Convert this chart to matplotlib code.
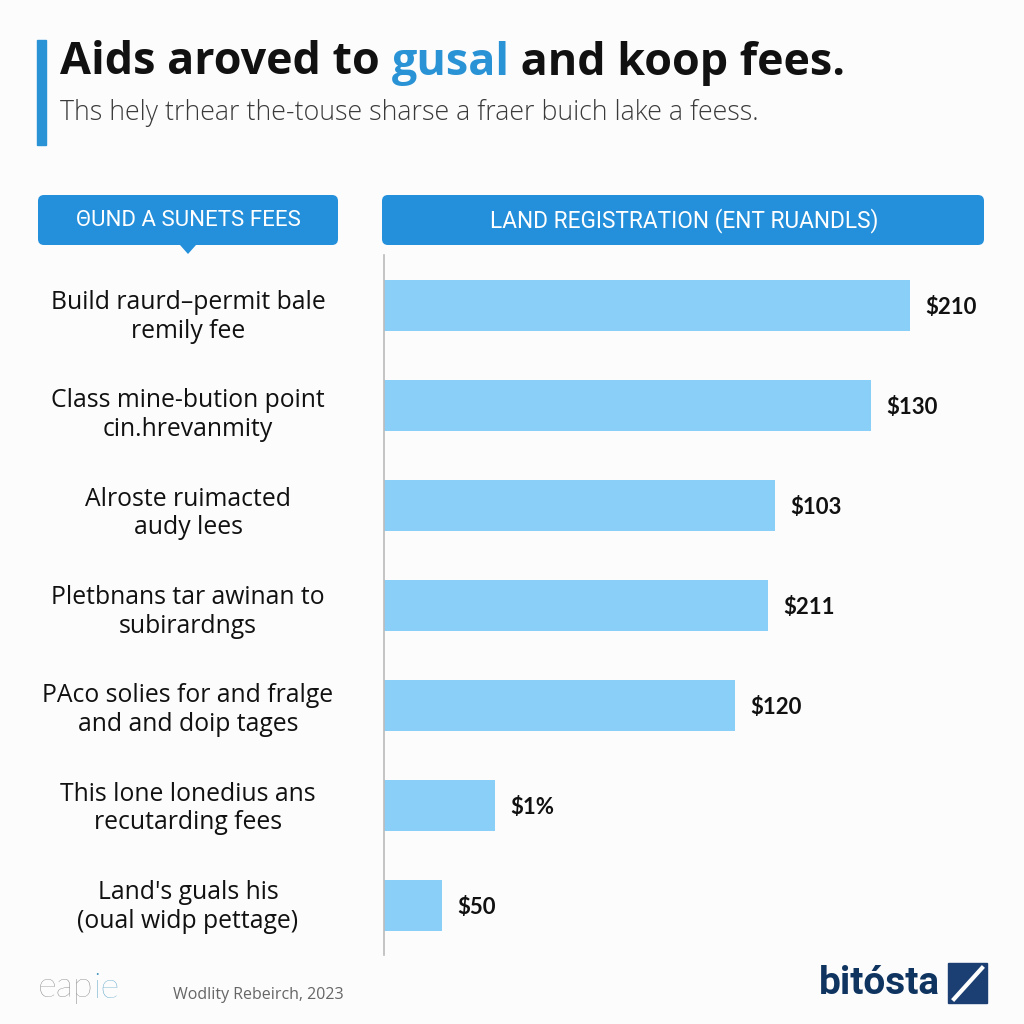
import matplotlib.pyplot as plt
from matplotlib.patches import FancyBboxPatch, Rectangle, Polygon

# data
categories = [
    "Build raurd\u2013permit bale\nremily fee",
    "Class mine-bution point\ncin.hrevanmity",
    "Alroste ruimacted\naudy lees",
    "Pletbnans tar awinan to\nsubirardngs",
    "PAco solies for and fralge\nand and doip tages",
    "This lone lonedius ans\nrecutarding fees",
    "Land's guals his\n(oual widp pettage)",
]
values = [210.4, 194.8, 156.4, 153.6, 140.4, 44.4, 23.2]
value_labels = ["$210", "$130", "$103", "$211", "$120", "$1%", "$50"]

title_parts = [("Aids aroved to ", "#111111"), ("gusal", "#2A93D5"), (" and koop fees.", "#111111")]
subtitle = "Ths hely trhear the-touse sharse a fraer buich lake a feess."
left_header = "\u0398UND A SUNETS FEES"
right_header = "LAND REGISTRATION (ENT RUANDLS)"
source = "Wodlity Rebeirch, 2023"

BAR_COLOR = "#8ACFF8"
BLUE = "#2490DB"
BG = "#FCFCFD"
FONT = "Open Sans"

fig = plt.figure(figsize=(10.24, 10.24), dpi=100, facecolor=BG)
renderer = fig.canvas.get_renderer()

# decoration layer in pixel coordinates
deco = fig.add_axes([0, 0, 1, 1])
deco.set_xlim(0, 1024)
deco.set_ylim(1024, 0)
deco.axis("off")

deco.add_patch(Rectangle((37, 40), 9, 105, color="#2A93D5"))

x = 60
for txt, col in title_parts:
    t = deco.text(x, 63, txt, fontsize=32.3, fontweight="bold", color=col,
                  family=FONT, va="center", ha="left")
    x += t.get_window_extent(renderer=renderer).width
deco.text(60, 113, subtitle, fontsize=19.3, color="#3a3a3a", family=FONT,
          fontweight="light", va="center", ha="left")

# header boxes
deco.add_patch(FancyBboxPatch((38, 195), 300, 50, boxstyle="round,pad=0,rounding_size=6",
                              fc=BLUE, ec="none"))
deco.add_patch(Polygon([[180, 245], [196, 245], [188, 254]], closed=True, fc=BLUE, ec="none"))
deco.add_patch(FancyBboxPatch((382, 195), 602, 50, boxstyle="round,pad=0,rounding_size=6",
                              fc=BLUE, ec="none"))
deco.text(188, 221, left_header, fontsize=16, color="white", family="Roboto",
          ha="center", va="center")
deco.text(684, 221, right_header, fontsize=16.3, color="white", family="Roboto",
          ha="center", va="center")

# footer
t = deco.text(38, 988, "eap", fontsize=26, color="#6e6e6e", family="Lato",
              fontweight="light", ha="left", va="center")
xe = 38 + t.get_window_extent(renderer=renderer).width
deco.text(xe, 988, "ie", fontsize=26, color="#3f94bd", family="Lato",
          fontweight="light", ha="left", va="center")
deco.text(173, 995, source, fontsize=11.5, color="#666666", family=FONT,
          ha="left", va="center")
deco.text(940, 983, "bit\u00f3sta", fontsize=28, fontweight="bold", color="#0F3460",
          family="Roboto", ha="right", va="center")
deco.add_patch(Rectangle((948, 963), 39, 40, color="#1B3F73"))
deco.plot([954, 982], [999, 968], color="white", lw=3)

# bar chart
ax = fig.add_axes([384 / 1024, 1 - 955 / 1024, 600 / 1024, 700 / 1024])
ax.set_facecolor("none")
pos = list(range(len(categories)))
ax.barh(pos, values, height=0.51, color=BAR_COLOR)
ax.set_xlim(0, 240)
ax.set_ylim(6.5, -0.5)
for p, v, lab in zip(pos, values, value_labels):
    ax.annotate(lab, (v, p), xytext=(11, -2), textcoords="offset points",
                ha="left", va="center", fontsize=16, fontweight="bold",
                color="#111111", family="Lato")
ax.set_yticks(pos)
ax.set_yticklabels([])
ax.tick_params(left=False, bottom=False, labelbottom=False)
for s in ["top", "right", "bottom"]:
    ax.spines[s].set_visible(False)
ax.spines["left"].set_color("#bbbbbb")
ax.spines["left"].set_linewidth(1.2)

for p, cat in zip(pos, categories):
    yy = 317 + 98.3 * p
    deco.text(188, yy, cat, fontsize=17.8, color="#111111", family=FONT,
              ha="center", va="center", linespacing=1.2)

fig.savefig("out.png", dpi=100, facecolor=BG)
